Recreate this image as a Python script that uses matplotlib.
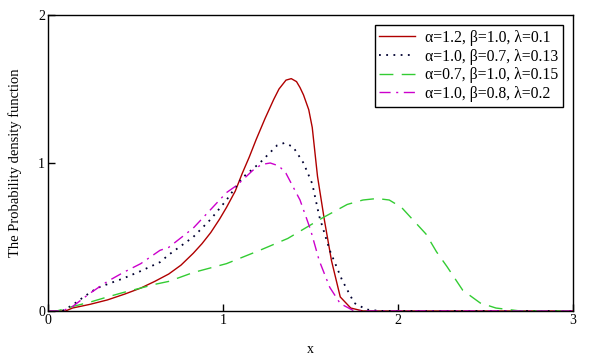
import matplotlib
matplotlib.use("Agg")
import matplotlib.pyplot as plt

plt.rcParams['font.family'] = ['Liberation Serif', 'DejaVu Serif']

# values
x_red = [0, 0.1, 0.14, 0.24, 0.34, 0.44, 0.53, 0.61, 0.69, 0.76, 0.83, 0.88, 0.93, 0.98, 1.02, 1.07,
         1.11, 1.15, 1.19, 1.24, 1.29, 1.32, 1.36, 1.39, 1.42, 1.44, 1.46, 1.49, 1.51, 1.54, 1.58,
         1.62, 1.67, 1.73, 1.8, 3.0]
y_red = [0, 0.0, 0.02, 0.045, 0.075, 0.115, 0.155, 0.2, 0.25, 0.31, 0.39, 0.455, 0.53, 0.62, 0.70, 0.81,
         0.93, 1.04, 1.16, 1.30, 1.43, 1.50, 1.56, 1.57, 1.55, 1.51, 1.46, 1.36, 1.24, 0.91, 0.61,
         0.34, 0.095, 0.02, 0.0, 0.0]

x_blk = [0, 0.08, 0.14, 0.21, 0.28, 0.36, 0.43, 0.53, 0.64, 0.69, 0.76, 0.83, 0.93, 1.02, 1.11, 1.21,
         1.31, 1.35, 1.40, 1.46, 1.51, 1.55, 1.61, 1.68, 1.75, 1.82, 1.9, 3.0]
y_blk = [0, 0.0, 0.04, 0.1, 0.155, 0.19, 0.22, 0.27, 0.33, 0.38, 0.44, 0.50, 0.62, 0.75, 0.90, 1.0,
         1.12, 1.135, 1.11, 1.0, 0.86, 0.64, 0.41, 0.21, 0.054, 0.01, 0.0, 0.0]

x_grn = [0, 0.05, 0.14, 0.24, 0.34, 0.43, 0.53, 0.61, 0.69, 0.83, 1.02, 1.21, 1.37, 1.57, 1.71, 1.80,
         1.88, 1.95, 2.02, 2.09, 2.16, 2.22, 2.28, 2.37, 2.47, 2.56, 2.7, 3.0]
y_grn = [0, 0.0, 0.03, 0.06, 0.095, 0.125, 0.155, 0.18, 0.2, 0.26, 0.32, 0.41, 0.49, 0.63, 0.72, 0.75,
         0.76, 0.75, 0.70, 0.61, 0.52, 0.40, 0.30, 0.14, 0.054, 0.02, 0.0, 0.0]

x_mag = [0, 0.08, 0.14, 0.24, 0.34, 0.43, 0.53, 0.64, 0.69, 0.83, 1.02, 1.08, 1.17, 1.22, 1.27, 1.32,
         1.36, 1.44, 1.50, 1.55, 1.61, 1.67, 1.75, 3.0]
y_mag = [0, 0.0, 0.03, 0.12, 0.2, 0.26, 0.32, 0.41, 0.43, 0.56, 0.80, 0.85, 0.95, 0.99, 1.0, 0.98,
         0.93, 0.75, 0.55, 0.34, 0.16, 0.05, 0.0, 0.0]

labels = ["α=1.2, β=1.0, λ=0.1",
          "α=1.0, β=0.7, λ=0.13",
          "α=0.7, β=1.0, λ=0.15",
          "α=1.0, β=0.8, λ=0.2"]

fig = plt.figure(figsize=(5.91, 3.55), dpi=100)
ax = fig.add_axes([48/591, 1-311/355, 525/591, 296/355])

ax.plot(x_red, y_red, color='#b00000', lw=1.0, label=labels[0])
ax.plot(x_blk, y_blk, color='#000030', lw=1.3, ls=(0, (1, 3)), label=labels[1])
ax.plot(x_grn, y_grn, color='#33cc33', lw=1.0, ls=(0, (10, 6)), label=labels[2])
ax.plot(x_mag, y_mag, color='#cc00cc', lw=1.0, ls=(0, (8, 4, 1.5, 4)), label=labels[3])

ax.set_xlim(0, 3)
ax.set_ylim(0, 2)
ax.set_xticks([0, 1, 2, 3])
ax.set_yticks([0, 1, 2])
ax.tick_params(direction='in', length=5, width=1, labelsize=10, pad=2)
for s in ax.spines.values():
    s.set_linewidth(1.0)

ax.set_xlabel('x', fontsize=10, labelpad=12)
ax.set_ylabel('The Probability density function', fontsize=10.5, labelpad=12)

leg = ax.legend(loc='upper right', fontsize=11.3, fancybox=False, edgecolor='black',
                framealpha=1, handlelength=2.3, borderaxespad=0.65, labelspacing=0.17,
                borderpad=0.3, handletextpad=0.6)
leg.get_frame().set_linewidth(1.0)

fig.savefig('out.png', dpi=100)
